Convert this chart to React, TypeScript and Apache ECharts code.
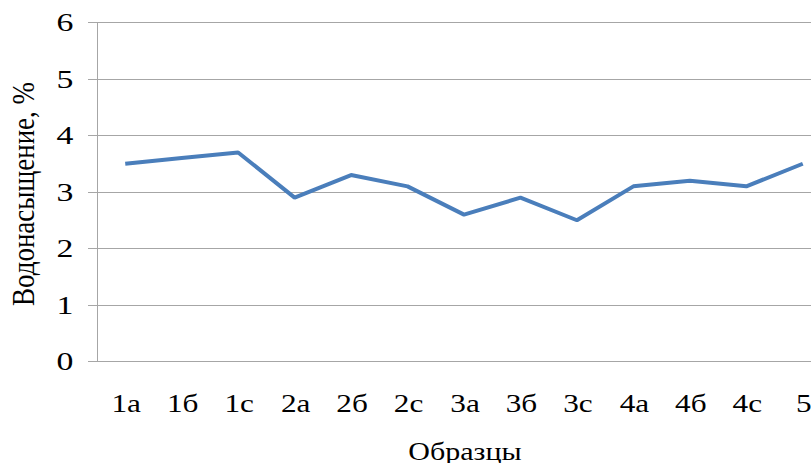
import React, { useEffect, useRef } from "react";
import * as echarts from "echarts";

const categories = ["1а", "1б", "1с", "2а", "2б", "2с", "3а", "3б", "3с", "4а", "4б", "4с", "5"];
const values = [3.5, 3.6, 3.7, 2.9, 3.3, 3.1, 2.6, 2.9, 2.5, 3.1, 3.2, 3.1, 3.5];
const yTicks = [0, 1, 2, 3, 4, 5, 6];
const yAxisTitle = "Водонасыщение, %";
const xAxisTitle = "Образцы";

const FONT = "Liberation Serif";
const GRID_LEFT = 97;
const GRID_TOP = 22.5;
const GRID_W = 734;
const GRID_H = 339;
const AXIS_COLOR = "#a6a6a6";

export default function App() {
  const ref = useRef<HTMLDivElement>(null);
  useEffect(() => {
    if (!ref.current) return;
    const chart = echarts.init(ref.current, undefined, { renderer: "svg" });
    chart.setOption({
      animation: false,
      backgroundColor: "#ffffff",
      textStyle: { fontFamily: FONT },
      grid: {
        left: GRID_LEFT,
        top: GRID_TOP,
        width: GRID_W,
        height: GRID_H,
        containLabel: false,
        outerBoundsMode: "none",
      },
      xAxis: {
        type: "category",
        data: categories,
        boundaryGap: true,
        axisLine: { show: true, lineStyle: { color: AXIS_COLOR, width: 1 } },
        axisTick: { show: false },
        axisLabel: { show: false },
      },
      yAxis: {
        type: "value",
        min: yTicks[0],
        max: yTicks[yTicks.length - 1],
        interval: 1,
        axisLine: { show: true, lineStyle: { color: AXIS_COLOR, width: 1 } },
        axisTick: { show: true, length: 9, lineStyle: { color: AXIS_COLOR } },
        splitLine: { show: true, lineStyle: { color: AXIS_COLOR, width: 1 } },
        axisLabel: { show: false },
      },
      series: [
        {
          type: "line",
          data: values,
          symbol: "none",
          lineStyle: { color: "#4a7ebb", width: 4 },
          itemStyle: { color: "#4a7ebb" },
        },
      ],
    });

    const graphics: any[] = [];
    categories.forEach((c, i) => {
      const px = chart.convertToPixel({ xAxisIndex: 0 }, i) as number;
      graphics.push({
        type: "text",
        x: px + 1,
        y: 403.5,
        scaleX: 1.25,
        silent: true,
        style: {
          text: c,
          fontFamily: FONT,
          fontSize: 25,
          fill: "#000",
          align: "center",
          verticalAlign: "middle",
        },
      });
    });
    yTicks.forEach((v) => {
      const py = chart.convertToPixel({ yAxisIndex: 0 }, v) as number;
      graphics.push({
        type: "text",
        x: 73.5,
        y: py,
        scaleX: 1.3,
        silent: true,
        style: {
          text: String(v),
          fontFamily: FONT,
          fontSize: 26,
          fill: "#000",
          align: "right",
          verticalAlign: "middle",
        },
      });
    });
    graphics.push({
      type: "text",
      x: GRID_LEFT + GRID_W / 2 + 1,
      y: 451,
      scaleX: 1.2,
      silent: true,
      style: {
        text: xAxisTitle,
        fontFamily: FONT,
        fontSize: 25,
        fill: "#000",
        align: "center",
        verticalAlign: "middle",
      },
    });
    graphics.push({
      type: "text",
      x: 23,
      y: 194,
      rotation: Math.PI / 2,
      scaleY: 1.2,
      silent: true,
      style: {
        text: yAxisTitle,
        fontFamily: FONT,
        fontSize: 27,
        fill: "#000",
        align: "center",
        verticalAlign: "middle",
      },
    });
    chart.setOption({ graphic: graphics });

    return () => chart.dispose();
  }, []);
  return (
    <div
      ref={ref}
      style={{ position: "absolute", left: 0, top: 0, width: 811, height: 463, background: "#fff" }}
    />
  );
}
